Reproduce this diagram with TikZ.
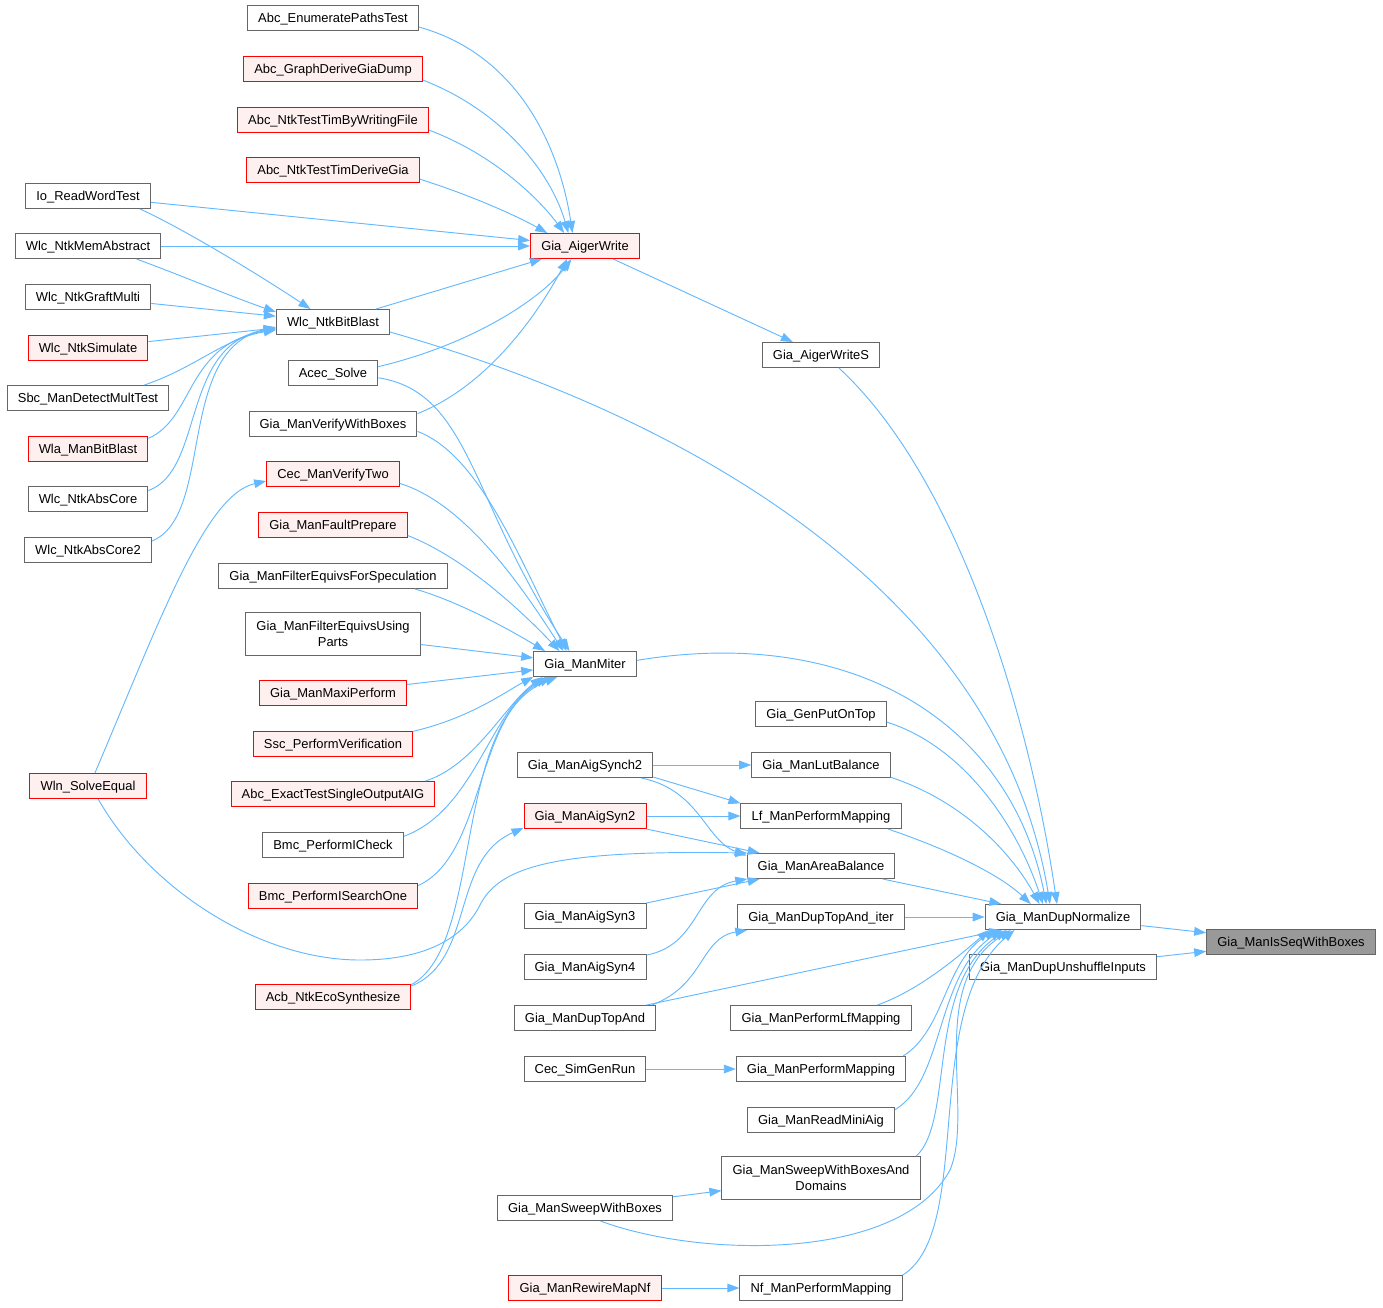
\documentclass[tikz,border=0pt]{standalone}
\usepackage{fontspec}
\setmainfont{Liberation Sans}
\usetikzlibrary{arrows.meta}

\definecolor{edgeblue}{HTML}{63B8FF}
\definecolor{boxgray}{HTML}{666666}
\definecolor{redfill}{HTML}{FFF0F0}
\definecolor{selgray}{HTML}{999999}

\tikzset{
  fn/.style={draw=boxgray, fill=white, line width=0.75pt, minimum height=18.75pt,
    inner xsep=8pt, inner ysep=0pt, text height=7.4pt, text depth=0.4pt,
    font=\fontsize{9.7}{12}\selectfont},
  fnred/.style={fn, draw=red, fill=redfill},
  fnsel/.style={fn, fill=selgray},
  fntwo/.style={align=center, text height=19.4pt, minimum height=32.25pt},
  call/.style={draw=edgeblue, line width=0.7pt, -{Triangle[length=9pt,width=6.5pt]}},
}

\begin{document}
\begin{tikzpicture}[x=0.75pt, y=-0.75pt]

    \useasboundingbox (0,0) rectangle (1383,1307);

    % left column
    \node[fn]    (ioread)   at (88,196) {Io\_ReadWordTest};
    \node[fn]    (memabs)   at (88,246) {Wlc\_NtkMemAbstract};
    \node[fn]    (graft)    at (88,297) {Wlc\_NtkGraftMulti};
    \node[fnred] (ntksim)   at (88,348) {Wlc\_NtkSimulate};
    \node[fn]    (sbcmult)  at (88,398) {Sbc\_ManDetectMultTest};
    \node[fnred] (wlabit)   at (88,449) {Wla\_ManBitBlast};
    \node[fn]    (abscore)  at (88,499) {Wlc\_NtkAbsCore};
    \node[fn]    (abscore2) at (88,550) {Wlc\_NtkAbsCore2};
    \node[fnred] (solveeq)  at (88,786) {Wln\_SolveEqual};

    % second column
    \node[fn]    (enumpaths) at (333,18)  {Abc\_EnumeratePathsTest};
    \node[fnred] (graphdump) at (333,69)  {Abc\_GraphDeriveGiaDump};
    \node[fnred] (timwrite)  at (333,120) {Abc\_NtkTestTimByWritingFile};
    \node[fnred] (timderive) at (333,170) {Abc\_NtkTestTimDeriveGia};
    \node[fn]    (bitblast)  at (333,322) {Wlc\_NtkBitBlast};
    \node[fn]    (acec)      at (333,373) {Acec\_Solve};
    \node[fn]    (verifybox) at (333,424) {Gia\_ManVerifyWithBoxes};
    \node[fnred] (verifytwo) at (333,474) {Cec\_ManVerifyTwo};
    \node[fnred] (faultprep) at (333,525) {Gia\_ManFaultPrepare};
    \node[fn]    (filtspec)  at (333,576) {Gia\_ManFilterEquivsForSpeculation};
    \node[fn, fntwo] (filtparts) at (333,634) {Gia\_ManFilterEquivsUsing\\Parts};
    \node[fnred] (maxi)      at (333,693) {Gia\_ManMaxiPerform};
    \node[fnred] (sscver)    at (333,744) {Ssc\_PerformVerification};
    \node[fnred] (exacttest) at (333,794) {Abc\_ExactTestSingleOutputAIG};
    \node[fn]    (icheck)    at (333,845) {Bmc\_PerformICheck};
    \node[fnred] (isearch)   at (333,896) {Bmc\_PerformISearchOne};
    \node[fnred] (ecosyn)    at (333,997) {Acb\_NtkEcoSynthesize};

    % third column
    \node[fnred] (aigwrite) at (585,246)  {Gia\_AigerWrite};
    \node[fn]    (miter)    at (585,664)  {Gia\_ManMiter};
    \node[fn]    (synch2)   at (585,765)  {Gia\_ManAigSynch2};
    \node[fnred] (syn2)     at (585,816)  {Gia\_ManAigSyn2};
    \node[fn]    (syn3)     at (585,916)  {Gia\_ManAigSyn3};
    \node[fn]    (syn4)     at (585,967)  {Gia\_ManAigSyn4};
    \node[fn]    (duptop)   at (585,1018) {Gia\_ManDupTopAnd};
    \node[fn]    (simgen)   at (585,1069) {Cec\_SimGenRun};
    \node[fn]    (sweepbox) at (585,1208) {Gia\_ManSweepWithBoxes};
    \node[fnred] (rewirenf) at (585,1288) {Gia\_ManRewireMapNf};

    % fourth column
    \node[fn] (aigws)      at (821,355)  {Gia\_AigerWriteS};
    \node[fn] (putontop)   at (821,714)  {Gia\_GenPutOnTop};
    \node[fn] (lutbal)     at (821,765)  {Gia\_ManLutBalance};
    \node[fn] (lfmap)      at (821,816)  {Lf\_ManPerformMapping};
    \node[fn] (areabal)    at (821,866)  {Gia\_ManAreaBalance};
    \node[fn] (duptopiter) at (821,917)  {Gia\_ManDupTopAnd\_iter};
    \node[fn] (perflf)     at (821,1018) {Gia\_ManPerformLfMapping};
    \node[fn] (perfmap)    at (821,1069) {Gia\_ManPerformMapping};
    \node[fn] (minaig)     at (821,1120) {Gia\_ManReadMiniAig};
    \node[fn, fntwo] (sweepdom) at (821,1178) {Gia\_ManSweepWithBoxesAnd\\Domains};
    \node[fn] (nfmap)      at (821,1288) {Nf\_ManPerformMapping};

    % right
    \node[fn]    (dupnorm) at (1063,917) {Gia\_ManDupNormalize};
    \node[fn]    (dupunsh) at (1063,967) {Gia\_ManDupUnshuffleInputs};
    \node[fnsel] (isseq)   at (1291,942) {Gia\_ManIsSeqWithBoxes};

    \draw[call] (dupnorm) -- (isseq);
    \draw[call] (dupunsh) -- (isseq);

    % into Gia_ManDupNormalize
    \draw[call] (aigws.-36) .. controls (960,480) and (1030,720) .. (dupnorm.115);
    \draw[call] (bitblast.-10) .. controls (700,420) and (1000,600) .. (dupnorm.135);
    \draw[call] (miter.4) .. controls (850,625) and (1010,720) .. (dupnorm.142);
    \draw[call] (putontop.-7) .. controls (960,745) and (1015,820) .. (dupnorm.147);
    \draw[call] (lutbal.-10) .. controls (960,800) and (1010,850) .. (dupnorm.151);
    \draw[call] (lfmap.-11) .. controls (950,850) and (1000,875) .. (dupnorm.158);
    \draw[call] (areabal) -- (dupnorm);
    \draw[call] (duptopiter) -- (dupnorm);
    \draw[call] (duptop) -- (dupnorm);
    \draw[call] (perflf.13) .. controls (920,990) and (960,955) .. (dupnorm.-170);
    \draw[call] (perfmap.9) .. controls (945,1030) and (945,960) .. (dupnorm.-169);
    \draw[call] (minaig.8) .. controls (945,1080) and (935,975) .. (dupnorm.-168);
    \draw[call] (sweepdom.13) .. controls (955,1120) and (925,985) .. (dupnorm.-167);
    \draw[call] (sweepbox.-40) .. controls (700,1258) and (900,1262) .. (950,1170)
        .. controls (975,1110) and (925,985) .. (dupnorm.-166);
    \draw[call] (nfmap.9) .. controls (975,1230) and (920,1010) .. (dupnorm.-165);

    % into Gia_AigerWriteS / Gia_AigerWrite
    \draw[call] (aigwrite) -- (aigws);
    \draw[call] (enumpaths.-6) .. controls (520,55) and (560,150) .. (aigwrite.134);
    \draw[call] (graphdump.-7) .. controls (500,110) and (550,170) .. (aigwrite.142);
    \draw[call] (timwrite.-6) .. controls (495,155) and (540,200) .. (aigwrite.148);
    \draw[call] (timderive.-6) .. controls (470,195) and (515,215) .. (aigwrite.161);
    \draw[call] (ioread) -- (aigwrite);
    \draw[call] (memabs) -- (aigwrite);
    \draw[call] (bitblast) -- (aigwrite);
    \draw[call] (acec.8) .. controls (470,345) and (540,300) .. (aigwrite.-136);
    \draw[call] (verifybox.7) .. controls (490,385) and (540,310) .. (aigwrite.-144);

    % into Wlc_NtkBitBlast
    \draw[call] (ioread.-14) .. controls (190,232) and (270,282) .. (bitblast.150);
    \draw[call] (memabs.-15) .. controls (180,275) and (235,298) .. (bitblast.170);
    \draw[call] (graft) -- (bitblast);
    \draw[call] (ntksim) -- (bitblast);
    \draw[call] (sbcmult.13) .. controls (195,368) and (225,338) .. (bitblast.-172);
    \draw[call] (wlabit.10) .. controls (195,418) and (185,345) .. (bitblast.-173);
    \draw[call] (abscore.8) .. controls (205,470) and (180,345) .. (bitblast.-174);
    \draw[call] (abscore2.8) .. controls (215,515) and (175,350) .. (bitblast.-175);

    % into Gia_ManMiter
    \draw[call] (acec.-6) .. controls (470,392) and (470,500) .. (miter.140);
    \draw[call] (verifybox.-5) .. controls (480,455) and (520,560) .. (miter.145);
    \draw[call] (verifytwo.-8) .. controls (470,505) and (530,600) .. (miter.149);
    \draw[call] (faultprep.-8) .. controls (470,560) and (530,620) .. (miter.153);
    \draw[call] (filtspec.-9) .. controls (460,602) and (510,630) .. (miter.162);
    \draw[call] (filtparts) -- (miter);
    \draw[call] (maxi) -- (miter);
    \draw[call] (sscver.9) .. controls (470,718) and (505,692) .. (miter.-166);
    \draw[call] (exacttest.8) .. controls (475,765) and (505,705) .. (miter.-163);
    \draw[call] (icheck.7) .. controls (475,810) and (490,710) .. (miter.-161);
    \draw[call] (isearch.7) .. controls (485,855) and (475,715) .. (miter.-159);
    \draw[call] (ecosyn.9) .. controls (485,945) and (450,720) .. (miter.-155);
    \draw[call] (ecosyn.8) .. controls (475,960) and (450,860) .. (syn2.-169);

    % from Wln_SolveEqual
    \draw[call] (solveeq.62) .. controls (160,620) and (205,495) .. (verifytwo.-174);
    \draw[call] (solveeq.-52) .. controls (150,890) and (260,960) .. (360,960)
        .. controls (430,960) and (465,935) .. (480,905)
        .. controls (500,865) and (560,850) .. (areabal.170);

    % middle block
    \draw[call] (synch2) -- (lutbal);
    \draw[call] (synch2.-10) -- (lfmap.171);
    \draw[call] (synch2.-13) .. controls (700,790) and (705,840) .. (areabal.172);
    \draw[call] (syn2) -- (lfmap);
    \draw[call] (syn2) -- (areabal);
    \draw[call] (syn3) -- (areabal);
    \draw[call] (syn4.11) .. controls (700,945) and (695,888) .. (areabal.-170);
    \draw[call] (duptop.11) .. controls (705,985) and (700,938) .. (duptopiter.-170);
    \draw[call] (simgen) -- (perfmap);
    \draw[call] (sweepbox) -- (sweepdom);
    \draw[call] (rewirenf) -- (nfmap);

\end{tikzpicture}
\end{document}
